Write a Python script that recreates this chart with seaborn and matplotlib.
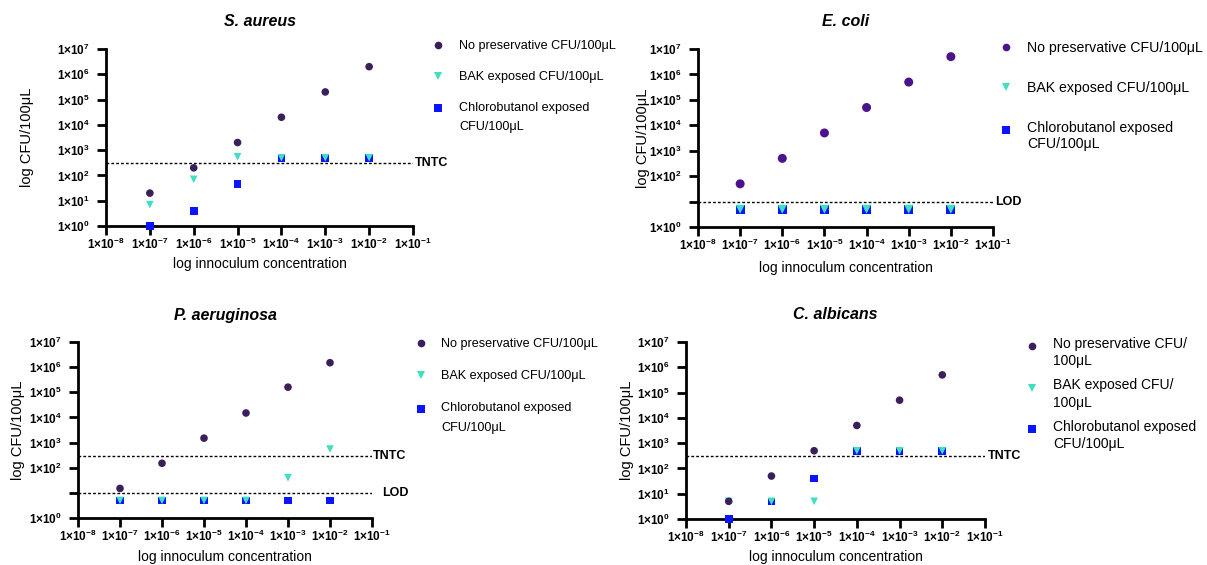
import numpy as np
import pandas as pd
import matplotlib
matplotlib.use('Agg')
import matplotlib.pyplot as plt
import matplotlib.ticker as mticker
from matplotlib.lines import Line2D
from matplotlib.legend_handler import HandlerLine2D
import seaborn as sns

# inoculum concentrations (x axis)
conc = [1e-7, 1e-6, 1e-5, 1e-4, 1e-3, 1e-2]

# CFU/100uL
s_aureus_none = [20, 200, 2000, 20000, 200000, 2000000]
s_aureus_bak = [7, 70, 550, 500, 500, 500]
s_aureus_chloro = [1, 4, 45, 500, 500, 500]

e_coli_none = [50, 500, 5000, 50000, 500000, 5000000]
e_coli_bak = [5, 5, 5, 5, 5, 5]
e_coli_chloro = [5, 5, 5, 5, 5, 5]

p_aer_none = [15, 150, 1500, 15000, 160000, 1500000]
p_aer_bak = [5, 5, 5, 5, 40, 550]
p_aer_chloro = [5, 5, 5, 5, 5, 5]

c_alb_none = [5, 50, 500, 5000, 50000, 500000]
c_alb_bak = [5, 5, 5, 500, 500, 500]
c_alb_chloro = [1, 5, 40, 500, 500, 500]

# thresholds
TNTC = 300
LOD = 10

groups = ['none', 'bak', 'chloro']
labels_a = ['No preservative CFU/100μL', 'BAK exposed CFU/100μL', 'Chlorobutanol exposed\nCFU/100μL']
labels_b = ['No preservative CFU/\n100μL', 'BAK exposed CFU/\n100μL', 'Chlorobutanol exposed\nCFU/100μL']

sns.set_style('ticks')
plt.rcParams['font.family'] = ['Liberation Sans', 'DejaVu Sans']
plt.rcParams['mathtext.fontset'] = 'custom'
plt.rcParams['mathtext.rm'] = 'Liberation Sans'
plt.rcParams['mathtext.bf'] = 'Liberation Sans:bold'
plt.rcParams['mathtext.it'] = 'Liberation Sans:italic'
for key in ['text.color', 'axes.labelcolor', 'xtick.color', 'ytick.color',
            'xtick.labelcolor', 'ytick.labelcolor']:
    plt.rcParams[key] = 'black'


class FirstLineHandler(HandlerLine2D):
    # put the legend marker next to the first line of a wrapped label
    def __init__(self, shift=0.0, **kw):
        super().__init__(**kw)
        self.shift = shift

    def create_artists(self, legend, orig_handle, xdescent, ydescent, width, height, fontsize, trans):
        arts = super().create_artists(legend, orig_handle, xdescent, ydescent, width, height, fontsize, trans)
        for a in arts:
            a.set_ydata(np.asarray(a.get_ydata()) + self.shift * fontsize)
        return arts


W, H = 1207, 565
fig = plt.figure(figsize=(W / 100, H / 100), dpi=100)

markers = {'none': 'o', 'bak': 'v', 'chloro': 's'}
teal = '#3fdfbf'
blue = '#0a14ff'


def px_rect(left, right, top, bottom):
    return [left / W, 1 - bottom / H, (right - left) / W, (bottom - top) / H]


def tick_fmt(v, pos):
    return r'$\mathbf{1{\times}10^{%d}}$' % int(round(np.log10(v)))


def draw_panel(rect, title, none, bak, chloro, dark, size, lines, hide_one,
               title_y, xlab_y, ylab_x, labels, leg):
    ax = fig.add_axes(px_rect(*rect))
    ax.set_xscale('log')
    ax.set_yscale('log')
    palette = {'none': dark, 'bak': teal, 'chloro': blue}
    df = pd.DataFrame({
        'conc': conc * 3,
        'cfu': chloro + bak + none,
        'group': ['chloro'] * 6 + ['bak'] * 6 + ['none'] * 6,
    })
    sns.scatterplot(data=df, x='conc', y='cfu', hue='group', style='group',
                    palette=palette, markers=markers, s=size, linewidth=0,
                    legend=False, clip_on=False, zorder=3, ax=ax)
    ax.set_xlim(1e-8, 1e-1)
    ax.set_ylim(1, 1e7)
    ax.set_xticks([10.0 ** e for e in range(-8, 0)])
    ax.set_yticks([10.0 ** e for e in range(0, 8)])
    ax.xaxis.set_minor_locator(mticker.NullLocator())
    ax.yaxis.set_minor_locator(mticker.NullLocator())
    ax.xaxis.set_major_formatter(mticker.FuncFormatter(tick_fmt))
    if hide_one:
        ax.yaxis.set_major_formatter(mticker.FuncFormatter(
            lambda v, p: '' if abs(v - 10) < 1e-6 else tick_fmt(v, p)))
    else:
        ax.yaxis.set_major_formatter(mticker.FuncFormatter(tick_fmt))
    ax.tick_params(axis='both', which='major', direction='out', length=6.5, width=2,
                   labelsize=8.5, color='black', labelcolor='black')
    ax.tick_params(axis='x', pad=1.5)
    ax.tick_params(axis='y', pad=5)
    for side in ['left', 'bottom']:
        ax.spines[side].set_linewidth(2)
        ax.spines[side].set_color('black')
    sns.despine(ax=ax)

    for val, name, tx in lines:
        ax.axhline(val, color='black', lw=1, ls=(0, (2, 1.5)), zorder=1)
        ax.text(tx, val, name, transform=ax.get_yaxis_transform(), ha='left', va='center',
                fontsize=9, fontweight='bold', color='black')

    ax.set_title(title, fontsize=11.5, fontweight='bold', fontstyle='italic',
                 y=title_y, pad=0, va='center', color='black')
    ax.set_xlabel('log innoculum concentration', fontsize=10, color='black')
    ax.set_ylabel('log CFU/100μL', fontsize=10.5, color='black')
    ax.xaxis.set_label_coords(0.5, xlab_y)
    ax.yaxis.set_label_coords(ylab_x, 0.5)

    left, top, fs, pad, lsp, linesp = leg
    handles = []
    hmap = {}
    for g, lab in zip(groups, labels):
        h = Line2D([], [], ls='none', marker=markers[g], color=palette[g],
                   markersize=5.5, markeredgewidth=0)
        handles.append(h)
        shift = 0.5 * linesp * 0.8 if '\n' in lab else 0.0
        hmap[h] = FirstLineHandler(shift=shift)
    lg = ax.legend(handles, labels, handler_map=hmap, loc='upper left',
                   bbox_to_anchor=(left / W, 1 - top / H), bbox_transform=fig.transFigure,
                   frameon=False, fontsize=fs, borderpad=0, borderaxespad=0,
                   handlelength=1.0, handletextpad=pad, labelspacing=lsp, numpoints=1,
                   labelcolor='black')
    for t in lg.get_texts():
        t.set_linespacing(linesp)
    return ax


draw_panel((106, 413, 49, 226), 'S. aureus', s_aureus_none, s_aureus_bak, s_aureus_chloro,
           '#3a1f5a', 30, [(TNTC, 'TNTC', 1.007)], False, 1.158, -0.175, -0.236,
           labels_a, (432, 40, 9.1, 1.15, 1.5, 1.8))
draw_panel((698, 993, 49, 227), 'E. coli', e_coli_none, e_coli_bak, e_coli_chloro,
           '#4a148c', 42, [(LOD, 'LOD', 1.007)], True, 1.152, -0.19, -0.163,
           labels_a, (999, 41, 10.2, 0.98, 1.85, 1.17))
draw_panel((78, 372, 342, 518), 'P. aeruginosa', p_aer_none, p_aer_bak, p_aer_chloro,
           '#3a1f5a', 30, [(TNTC, 'TNTC', 1.003), (LOD, 'LOD', 1.034)], True, 1.153, -0.18, -0.18,
           labels_a, (415, 338, 9.1, 1.07, 1.6, 1.8))
draw_panel((686, 985, 342, 519), 'C. albicans', c_alb_none, c_alb_bak, c_alb_chloro,
           '#3a1f5a', 30, [(TNTC, 'TNTC', 1.01)], False, 1.153, -0.175, -0.174,
           labels_b, (1025, 337, 10, 1.0, 0.75, 1.28))

fig.savefig('out.png', dpi=100, facecolor='white')
